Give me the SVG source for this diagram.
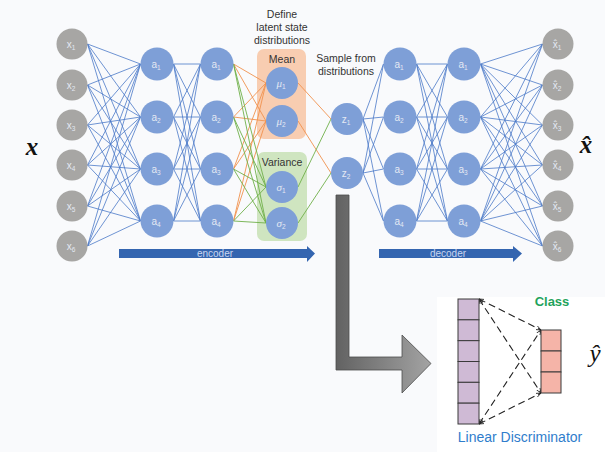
<svg xmlns="http://www.w3.org/2000/svg" width="605" height="452" viewBox="0 0 605 452">
  <style>
    .in { fill: #a7a6a4; }
    .hid { fill: #7e9fd7; }
    .lbl { font-family: "Liberation Sans", Arial, sans-serif; font-size: 10px; fill: #e4e9f3; text-anchor: middle; }
    .lbl .sub { font-size: 6.5px; }
    .gk { font-family: "Liberation Serif", serif; font-style: italic; font-size: 11px; }
    .cap { font-family: "Liberation Sans", Arial, sans-serif; font-size: 10.5px; fill: #333; text-anchor: middle; }
    .math { font-family: "Liberation Serif", "DejaVu Serif", serif; font-style: italic; font-size: 25px; fill: #111; text-anchor: middle; }
    .blue { stroke: #4a78c8; stroke-width: 0.8; fill: none; }
    .orange { stroke: #f0924e; stroke-width: 0.9; fill: none; }
    .green { stroke: #6fb04a; stroke-width: 0.9; fill: none; }
    .bar { fill: #3465b0; }
    .bartxt { font-family: "Liberation Sans", Arial, sans-serif; font-size: 10px; fill: #c9d6ef; text-anchor: middle; }
    .cell { stroke: #3a3a3a; stroke-width: 1; }
    .dash { stroke: #222; stroke-width: 1.1; stroke-dasharray: 7 4; fill: none; }
  </style>
  <defs>
    <linearGradient id="grayGrad" gradientUnits="userSpaceOnUse" x1="336" y1="0" x2="431" y2="0">
      <stop offset="0" stop-color="#626262"/>
      <stop offset="1" stop-color="#a3a3a3"/>
    </linearGradient>
    <marker id="tip" viewBox="0 0 10 10" refX="10" refY="5" markerWidth="5" markerHeight="5" orient="auto-start-reverse" markerUnits="userSpaceOnUse">
      <path d="M0 1 L10 5 L0 9" fill="none" stroke="#222" stroke-width="1.6"/>
    </marker>
  </defs>

  <!-- backgrounds -->
  <rect width="605" height="452" fill="#f9fafc"/>
  <rect x="437" y="297" width="168" height="155" fill="#ffffff"/>

  <!-- latent distribution panels -->
  <rect id="mean-box" x="257" y="49" width="49" height="90" rx="7" fill="#f8cdb1"/>
  <rect id="variance-box" x="257" y="152" width="50" height="89" rx="7" fill="#cfe5c0"/>

  <!-- connectors -->
  <g id="connectors">
    <!-- input -> hidden 1 -->
    <path class="blue" d="M87.5 44L140.5 64M87.5 44L140.5 117M87.5 44L140.5 169M87.5 44L140.5 221
      M87.5 85L140.5 64M87.5 85L140.5 117M87.5 85L140.5 169M87.5 85L140.5 221
      M87.5 125L140.5 64M87.5 125L140.5 117M87.5 125L140.5 169M87.5 125L140.5 221
      M87.5 165L140.5 64M87.5 165L140.5 117M87.5 165L140.5 169M87.5 165L140.5 221
      M87.5 206L140.5 64M87.5 206L140.5 117M87.5 206L140.5 169M87.5 206L140.5 221
      M87.5 246L140.5 64M87.5 246L140.5 117M87.5 246L140.5 169M87.5 246L140.5 221"/>
    <!-- hidden 1 -> hidden 2 -->
    <path class="blue" d="M173.5 64L200.5 64M173.5 64L200.5 117M173.5 64L200.5 169M173.5 64L200.5 221
      M173.5 117L200.5 64M173.5 117L200.5 117M173.5 117L200.5 169M173.5 117L200.5 221
      M173.5 169L200.5 64M173.5 169L200.5 117M173.5 169L200.5 169M173.5 169L200.5 221
      M173.5 221L200.5 64M173.5 221L200.5 117M173.5 221L200.5 169M173.5 221L200.5 221"/>
    <!-- hidden 2 -> mean -->
    <path class="orange" d="M233.5 64L266 83M233.5 64L266 121M233.5 117L266 83M233.5 117L266 121
      M233.5 169L266 83M233.5 169L266 121M233.5 221L266 83M233.5 221L266 121"/>
    <!-- hidden 2 -> variance -->
    <path class="green" d="M233.5 64L266 187M233.5 64L266 223M233.5 117L266 187M233.5 117L266 223
      M233.5 169L266 187M233.5 169L266 223M233.5 221L266 187M233.5 221L266 223"/>
    <!-- distributions -> samples -->
    <path class="orange" d="M298 83L331 119M298 121L331 173"/>
    <path class="green" d="M298 187L331 119M298 223L331 173"/>
    <!-- samples -> decoder 1 -->
    <path class="blue" d="M363 119L383.5 64M363 119L383.5 117M363 119L383.5 169M363 119L383.5 221
      M363 173L383.5 64M363 173L383.5 117M363 173L383.5 169M363 173L383.5 221"/>
    <!-- decoder 1 -> decoder 2 -->
    <path class="blue" d="M416.5 64L447.5 64M416.5 64L447.5 117M416.5 64L447.5 169M416.5 64L447.5 221
      M416.5 117L447.5 64M416.5 117L447.5 117M416.5 117L447.5 169M416.5 117L447.5 221
      M416.5 169L447.5 64M416.5 169L447.5 117M416.5 169L447.5 169M416.5 169L447.5 221
      M416.5 221L447.5 64M416.5 221L447.5 117M416.5 221L447.5 169M416.5 221L447.5 221"/>
    <!-- decoder 2 -> output -->
    <path class="blue" d="M480.5 64L542.5 44M480.5 64L542.5 85M480.5 64L542.5 125M480.5 64L542.5 165M480.5 64L542.5 206M480.5 64L542.5 246
      M480.5 117L542.5 44M480.5 117L542.5 85M480.5 117L542.5 125M480.5 117L542.5 165M480.5 117L542.5 206M480.5 117L542.5 246
      M480.5 169L542.5 44M480.5 169L542.5 85M480.5 169L542.5 125M480.5 169L542.5 165M480.5 169L542.5 206M480.5 169L542.5 246
      M480.5 221L542.5 44M480.5 221L542.5 85M480.5 221L542.5 125M480.5 221L542.5 165M480.5 221L542.5 206M480.5 221L542.5 246"/>
    <!-- discriminator links -->
    <path class="dash" marker-start="url(#tip)" marker-end="url(#tip)" d="M479 299L541 330"/>
    <path class="dash" marker-start="url(#tip)" marker-end="url(#tip)" d="M479 299L541 393"/>
    <path class="dash" marker-start="url(#tip)" marker-end="url(#tip)" d="M479 424L541 330"/>
    <path class="dash" marker-start="url(#tip)" marker-end="url(#tip)" d="M479 424L541 393"/>
  </g>

  <!-- input layer -->
  <g id="x1"><circle class="in" cx="72" cy="44" r="15.5"/><text class="lbl" x="71" y="47.5">x<tspan class="sub" dy="2">1</tspan></text></g>
  <g id="x2"><circle class="in" cx="72" cy="85" r="15.5"/><text class="lbl" x="71" y="88.5">x<tspan class="sub" dy="2">2</tspan></text></g>
  <g id="x3"><circle class="in" cx="72" cy="125" r="15.5"/><text class="lbl" x="71" y="128.5">x<tspan class="sub" dy="2">3</tspan></text></g>
  <g id="x4"><circle class="in" cx="72" cy="165" r="15.5"/><text class="lbl" x="71" y="168.5">x<tspan class="sub" dy="2">4</tspan></text></g>
  <g id="x5"><circle class="in" cx="72" cy="206" r="15.5"/><text class="lbl" x="71" y="209.5">x<tspan class="sub" dy="2">5</tspan></text></g>
  <g id="x6"><circle class="in" cx="72" cy="246" r="15.5"/><text class="lbl" x="71" y="249.5">x<tspan class="sub" dy="2">6</tspan></text></g>

  <!-- encoder hidden layer 1 -->
  <g id="enc1-a1"><circle class="hid" cx="157" cy="64" r="16.5"/><text class="lbl" x="156" y="67.5">a<tspan class="sub" dy="2">1</tspan></text></g>
  <g id="enc1-a2"><circle class="hid" cx="157" cy="117" r="16.5"/><text class="lbl" x="156" y="120.5">a<tspan class="sub" dy="2">2</tspan></text></g>
  <g id="enc1-a3"><circle class="hid" cx="157" cy="169" r="16.5"/><text class="lbl" x="156" y="172.5">a<tspan class="sub" dy="2">3</tspan></text></g>
  <g id="enc1-a4"><circle class="hid" cx="157" cy="221" r="16.5"/><text class="lbl" x="156" y="224.5">a<tspan class="sub" dy="2">4</tspan></text></g>

  <!-- encoder hidden layer 2 -->
  <g id="enc2-a1"><circle class="hid" cx="217" cy="64" r="16.5"/><text class="lbl" x="216" y="67.5">a<tspan class="sub" dy="2">1</tspan></text></g>
  <g id="enc2-a2"><circle class="hid" cx="217" cy="117" r="16.5"/><text class="lbl" x="216" y="120.5">a<tspan class="sub" dy="2">2</tspan></text></g>
  <g id="enc2-a3"><circle class="hid" cx="217" cy="169" r="16.5"/><text class="lbl" x="216" y="172.5">a<tspan class="sub" dy="2">3</tspan></text></g>
  <g id="enc2-a4"><circle class="hid" cx="217" cy="221" r="16.5"/><text class="lbl" x="216" y="224.5">a<tspan class="sub" dy="2">4</tspan></text></g>

  <!-- mean and variance -->
  <g id="mu1"><circle class="hid" cx="282" cy="83" r="16"/><text class="lbl" x="281" y="86.5"><tspan class="gk">μ</tspan><tspan class="sub" dy="2">1</tspan></text></g>
  <g id="mu2"><circle class="hid" cx="282" cy="121" r="16"/><text class="lbl" x="281" y="124.5"><tspan class="gk">μ</tspan><tspan class="sub" dy="2">2</tspan></text></g>
  <g id="sigma1"><circle class="hid" cx="282" cy="187" r="16"/><text class="lbl" x="281" y="190.5"><tspan class="gk">σ</tspan><tspan class="sub" dy="2">1</tspan></text></g>
  <g id="sigma2"><circle class="hid" cx="282" cy="223" r="16"/><text class="lbl" x="281" y="226.5"><tspan class="gk">σ</tspan><tspan class="sub" dy="2">2</tspan></text></g>

  <!-- samples -->
  <g id="z1"><circle class="hid" cx="347" cy="119" r="16"/><text class="lbl" x="346" y="122.5">z<tspan class="sub" dy="2">1</tspan></text></g>
  <g id="z2"><circle class="hid" cx="347" cy="173" r="16"/><text class="lbl" x="346" y="176.5">z<tspan class="sub" dy="2">2</tspan></text></g>

  <!-- decoder hidden layer 1 -->
  <g id="dec1-a1"><circle class="hid" cx="400" cy="64" r="16.5"/><text class="lbl" x="399" y="67.5">a<tspan class="sub" dy="2">1</tspan></text></g>
  <g id="dec1-a2"><circle class="hid" cx="400" cy="117" r="16.5"/><text class="lbl" x="399" y="120.5">a<tspan class="sub" dy="2">2</tspan></text></g>
  <g id="dec1-a3"><circle class="hid" cx="400" cy="169" r="16.5"/><text class="lbl" x="399" y="172.5">a<tspan class="sub" dy="2">3</tspan></text></g>
  <g id="dec1-a4"><circle class="hid" cx="400" cy="221" r="16.5"/><text class="lbl" x="399" y="224.5">a<tspan class="sub" dy="2">4</tspan></text></g>

  <!-- decoder hidden layer 2 -->
  <g id="dec2-a1"><circle class="hid" cx="464" cy="64" r="16.5"/><text class="lbl" x="463" y="67.5">a<tspan class="sub" dy="2">1</tspan></text></g>
  <g id="dec2-a2"><circle class="hid" cx="464" cy="117" r="16.5"/><text class="lbl" x="463" y="120.5">a<tspan class="sub" dy="2">2</tspan></text></g>
  <g id="dec2-a3"><circle class="hid" cx="464" cy="169" r="16.5"/><text class="lbl" x="463" y="172.5">a<tspan class="sub" dy="2">3</tspan></text></g>
  <g id="dec2-a4"><circle class="hid" cx="464" cy="221" r="16.5"/><text class="lbl" x="463" y="224.5">a<tspan class="sub" dy="2">4</tspan></text></g>

  <!-- output layer -->
  <g id="xh1"><circle class="in" cx="558" cy="44" r="15.5"/><text class="lbl" x="557" y="47.5">x̂<tspan class="sub" dy="2">1</tspan></text></g>
  <g id="xh2"><circle class="in" cx="558" cy="85" r="15.5"/><text class="lbl" x="557" y="88.5">x̂<tspan class="sub" dy="2">2</tspan></text></g>
  <g id="xh3"><circle class="in" cx="558" cy="125" r="15.5"/><text class="lbl" x="557" y="128.5">x̂<tspan class="sub" dy="2">3</tspan></text></g>
  <g id="xh4"><circle class="in" cx="558" cy="165" r="15.5"/><text class="lbl" x="557" y="168.5">x̂<tspan class="sub" dy="2">4</tspan></text></g>
  <g id="xh5"><circle class="in" cx="558" cy="206" r="15.5"/><text class="lbl" x="557" y="209.5">x̂<tspan class="sub" dy="2">5</tspan></text></g>
  <g id="xh6"><circle class="in" cx="558" cy="246" r="15.5"/><text class="lbl" x="557" y="249.5">x̂<tspan class="sub" dy="2">6</tspan></text></g>

  <!-- captions -->
  <text class="cap" x="282" y="18">Define</text>
  <text class="cap" x="282" y="31">latent state</text>
  <text class="cap" x="282" y="44">distributions</text>
  <text class="cap" x="282" y="63" fill="#222">Mean</text>
  <text class="cap" x="282" y="166" fill="#222">Variance</text>
  <text class="cap" x="346" y="62">Sample from</text>
  <text class="cap" x="346" y="75">distributions</text>

  <!-- math symbols -->
  <text class="math" x="32" y="155" font-weight="bold">x</text>
  <text class="math" x="586" y="153" font-weight="bold">x̂</text>
  <text class="math" x="595" y="362">ŷ</text>

  <!-- encoder / decoder arrows -->
  <g id="encoder-arrow">
    <path class="bar" d="M119 249H307V246L315 253.5L307 262V258H119Z"/>
    <text class="bartxt" x="215" y="257">encoder</text>
  </g>
  <g id="decoder-arrow">
    <path class="bar" d="M379 249H513V246L522 253.5L513 262V258H379Z"/>
    <text class="bartxt" x="448" y="257">decoder</text>
  </g>

  <!-- latent code to discriminator -->
  <path id="to-discriminator" d="M336 195H349V357H402V335L431 363.5L402 393V370H336Z" fill="url(#grayGrad)" stroke="#4d4d4d" stroke-width="0.8"/>

  <!-- linear discriminator -->
  <g id="latent-column">
    <rect class="cell" x="458" y="299" width="21" height="20.83" fill="#cfbad5"/>
    <rect class="cell" x="458" y="319.83" width="21" height="20.83" fill="#cfbad5"/>
    <rect class="cell" x="458" y="340.67" width="21" height="20.83" fill="#cfbad5"/>
    <rect class="cell" x="458" y="361.5" width="21" height="20.83" fill="#cfbad5"/>
    <rect class="cell" x="458" y="382.33" width="21" height="20.83" fill="#cfbad5"/>
    <rect class="cell" x="458" y="403.17" width="21" height="20.83" fill="#cfbad5"/>
  </g>
  <g id="class-column">
    <rect class="cell" x="541" y="330" width="20" height="21" fill="#f5b4a8"/>
    <rect class="cell" x="541" y="351" width="20" height="21" fill="#f5b4a8"/>
    <rect class="cell" x="541" y="372" width="20" height="21" fill="#f5b4a8"/>
  </g>
  <text x="552" y="306" font-family="'Liberation Sans', Arial, sans-serif" font-size="13" font-weight="bold" fill="#1fa35c" text-anchor="middle">Class</text>
  <text x="520" y="442" font-family="'Liberation Sans', Arial, sans-serif" font-size="14" fill="#2f7dcc" text-anchor="middle">Linear Discriminator</text>
</svg>
